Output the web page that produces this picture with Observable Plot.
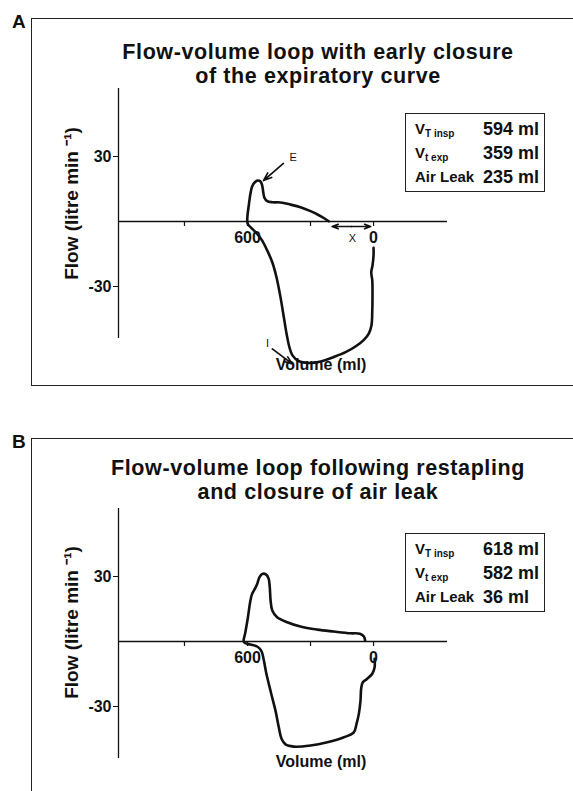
<!DOCTYPE html>
<html><head><meta charset="utf-8">
<script src="https://cdn.jsdelivr.net/npm/d3@7"></script>
<script src="https://cdn.jsdelivr.net/npm/@observablehq/plot@0.6"></script>
<style>
body{margin:0;background:#fff;}
#fig{position:relative;width:573px;height:791px;overflow:hidden;font-family:"Liberation Sans",Arial,Helvetica,sans-serif;color:#111;}
.plot-holder{position:absolute;left:0;}
.frame{position:absolute;border-top:1.5px solid #222;border-left:1.5px solid #222;}
.letter{position:absolute;font-weight:bold;font-size:19px;line-height:19px;}
.tline{position:absolute;left:68px;width:500px;height:24px;text-align:center;font-weight:bold;font-size:21.5px;line-height:24px;letter-spacing:0.6px;white-space:nowrap;}
.stats{position:absolute;left:405px;width:140px;height:79px;box-sizing:border-box;border:1.5px solid #222;font-weight:bold;}
.row{position:absolute;left:0;width:100%;height:18px;font-size:18px;line-height:18px;}
.lab{position:absolute;left:9px;font-size:15px;}
.lab sub{font-size:10px;vertical-align:-3px;line-height:0;}
.val{position:absolute;left:77px;font-size:18px;}
</style>
</head><body>
<div id="fig"></div>
<script>
// ---------- data ----------
const volumeDomain = [1214, -352];      // ml (reversed axis)
const flowDomain = [-54, 61.4];         // litre/min
const volumeTicks = [900, 600, 300, 0];
const volumeTickLabels = [600, 0];
const flowTicks = [30, -30];

const loopA_volume = [0,0,5,11,6,5,6,10,22,46,86,133,189,252,310,357,386,400,414,427,443,462,482,506,530,557,582,597,601,600,594,586,578,565,551,538,530,525,519,506,482,443,395,348,300,260,233,213];
const loopA_flow = [-12.1,-15.7,-20.3,-23.4,-27.2,-33.4,-41.1,-48,-51.6,-54.6,-57.7,-60.3,-62.5,-64.6,-65.3,-64.4,-61.8,-58.2,-51.8,-44.2,-34.9,-25.7,-18.8,-13.4,-8.8,-5.4,-2.9,-1.4,0,2.8,7.4,12.8,16.2,18.1,18.9,18.5,16.6,13.5,10.9,9.4,8.9,8.8,7.8,6.6,4.8,2.9,1.4,0.1];

const loopB_volume = [-5,-5,6,30,51,59,62,70,81,94,141,220,300,380,419,438,451,467,487,510,522,533,554,586,610,618,610,599,586,578,565,554,543,530,511,499,494,490,482,459,411,348,268,189,110,65,46,40];
const loopB_flow = [-8,-11.9,-14.9,-17.2,-18.8,-21.8,-27.2,-33.4,-38,-41.9,-44.2,-46.5,-48,-48.5,-47.5,-44.9,-39.6,-31.8,-24.1,-14.9,-8.8,-4.5,-2.3,-1.4,-0.8,0,4.3,10.5,18.9,22,24.3,26.6,29.7,31.2,30.9,28.9,25.1,18.9,14.3,11.2,8.9,6.9,5.5,4.6,3.8,3.6,2.3,0.5];

const panelLetters = ["A", "B"];
const titleA = ["Flow-volume loop with early closure", "of the expiratory curve"];
const titleB = ["Flow-volume loop following restapling", "and closure of air leak"];
const yAxisLabel = "Flow (litre min \u207B\u00B9)";
const xAxisLabel = "Volume (ml)";
const xAxisLabelVolume = 250;

const statMain = ["V", "V", "Air Leak"];
const statSub = ["T insp", "t exp", ""];
const statsA = [594, 359, 235];
const statsB = [618, 582, 36];

// annotations in panel A (data coordinates)
const annotA_text = ["E", "I", "X"];
const annotA_volume = [383, 505, 101];
const annotA_flow = [29.7, -56.3, -7.8];
const arrowA_v1 = [429, 482, 105, 105];
const arrowA_f1 = [26.8, -58.8, -2.3, -2.3];
const arrowA_v2 = [524, 387, 197, 14];
const arrowA_f2 = [18.9, -65.7, -2.3, -2.3];

// ---------- drawing ----------
const FONT = '"Liberation Sans", Arial, Helvetica, sans-serif';
const fig = document.getElementById("fig");

function makePlot(vol, flow, height, labelDy, volLabelDy, withAnnot) {
  const idx = d3.range(vol.length);
  const marks = [
    Plot.ruleY([0], {stroke: "#111", strokeWidth: 1.3}),
    Plot.ruleX([volumeDomain[0]], {stroke: "#111", strokeWidth: 1.3}),
    Plot.axisY({ticks: flowTicks, tickSize: 5, tickPadding: 2, tickFormat: d => String(d),
                fontSize: 16, fontWeight: "bold", label: null, stroke: "#111"}),
    Plot.ruleX(volumeTicks, {x: d => d, y1: 0, y2: 0, insetBottom: -5, stroke: "#111", strokeWidth: 1.2}),
    Plot.text(volumeTickLabels, {x: d => d, y: 0, dy: 16, text: d => String(d), fontSize: 16, fontWeight: "bold", fill: "#111"}),
    Plot.line(idx, {x: i => vol[i], y: i => flow[i], curve: "catmull-rom", stroke: "#111", strokeWidth: 2.6, strokeLinejoin: "round"}),
    Plot.text([yAxisLabel], {frameAnchor: "left", textAnchor: "middle", rotate: -90, dx: -47, dy: labelDy, text: d => d, fontSize: 19, fontWeight: "bold", fill: "#111"}),
    Plot.text([xAxisLabel], {x: () => xAxisLabelVolume, frameAnchor: "bottom", textAnchor: "middle", dy: volLabelDy, text: d => d, fontSize: 16, fontWeight: "bold", fill: "#111"})
  ];
  if (withAnnot) {
    const ai = d3.range(annotA_text.length);
    const ri = d3.range(arrowA_v1.length);
    marks.push(
      Plot.text(ai, {x: i => annotA_volume[i], y: i => annotA_flow[i], text: i => annotA_text[i], fontSize: 11, fontWeight: "normal", fill: "#111"}),
      Plot.arrow(ri, {x1: i => arrowA_v1[i], y1: i => arrowA_f1[i], x2: i => arrowA_v2[i], y2: i => arrowA_f2[i],
                      stroke: "#111", strokeWidth: 1.7, headLength: 8, headAngle: 40})
    );
  }
  return Plot.plot({
    width: 573, height,
    marginLeft: 118, marginRight: 126, marginTop: 88, marginBottom: height - 338,
    x: {domain: volumeDomain, axis: null},
    y: {domain: flowDomain},
    style: {background: "transparent", fontFamily: FONT, color: "#111", overflow: "visible"},
    marks
  });
}

function addPanel(top, letter, title, stats, vol, flow, height, labelDy, volLabelDy, withAnnot, frameH, titleTop, statTop) {
  const holder = document.createElement("div");
  holder.className = "plot-holder";
  holder.style.top = top + "px";
  holder.appendChild(makePlot(vol, flow, height, labelDy, volLabelDy, withAnnot));
  fig.appendChild(holder);

  const fr = document.createElement("div");
  fr.className = "frame";
  fr.style.left = "31px"; fr.style.top = (top + 18) + "px";
  fr.style.width = "560px"; fr.style.height = frameH + "px";
  if (frameH < 400) fr.style.borderBottom = "1.5px solid #222";
  fig.appendChild(fr);

  const L = document.createElement("div");
  L.className = "letter"; L.textContent = letter;
  L.style.left = "12px"; L.style.top = (top + 12) + "px";
  fig.appendChild(L);

  title.forEach((line, i) => {
    const T = document.createElement("div");
    T.className = "tline";
    T.style.top = (titleTop + i * 24) + "px";
    T.textContent = line;
    fig.appendChild(T);
  });

  const S = document.createElement("div");
  S.className = "stats";
  S.style.top = statTop + "px";
  stats.forEach((v, i) => {
    const r = document.createElement("div");
    r.className = "row";
    r.style.top = (6 + i * 24) + "px";
    const lab = document.createElement("span");
    lab.className = "lab";
    lab.innerHTML = statMain[i] + (statSub[i] ? "<sub>" + statSub[i] + "</sub>" : "");
    const val = document.createElement("span");
    val.className = "val";
    val.textContent = v + " ml";
    r.appendChild(lab); r.appendChild(val);
    S.appendChild(r);
  });
  fig.appendChild(S);
}

addPanel(0, panelLetters[0], titleA, statsA, loopA_volume, loopA_flow, 390, -10, 31, true, 366, 40, 113);
addPanel(420, panelLetters[1], titleB, statsB, loopB_volume, loopB_flow, 371, -11, 8, false, 500, 456, 533);
</script>
</body></html>
